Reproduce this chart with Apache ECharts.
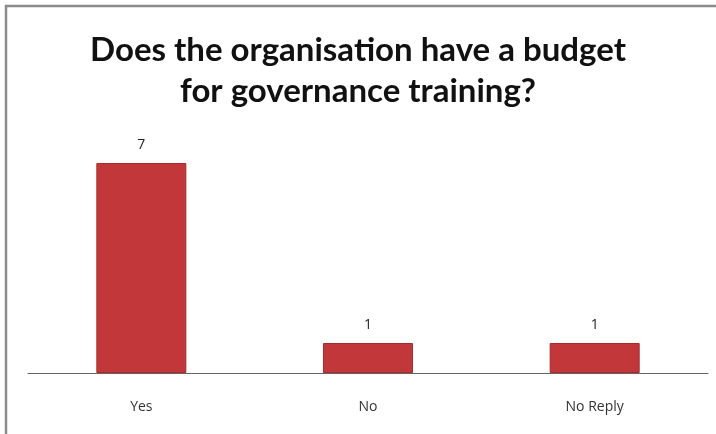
<!DOCTYPE html>
<html>
<head>
<meta charset="utf-8">
<script src="https://cdn.jsdelivr.net/npm/echarts@6/dist/echarts.min.js"></script>
<style>
  html, body { margin: 0; padding: 0; background: #fff; }
  #chart { width: 716px; height: 434px; }
</style>
</head>
<body>
<div id="chart"></div>
<script>
// Survey responses: organisation budget for governance training
const categories = ['Yes', 'No', 'No Reply'];
const counts = [7, 1, 1];
const titleLines = ['Does the organisation have a budget', 'for governance training?'];

const chart = echarts.init(document.getElementById('chart'));
chart.setOption({
  animation: false,
  backgroundColor: '#ffffff',
  title: {
    text: titleLines.join('\n'),
    left: 'center',
    top: 25,
    textStyle: {
      fontFamily: 'Lato',
      fontWeight: 'bold',
      fontSize: 33,
      lineHeight: 41,
      color: '#111111'
    }
  },
  // frame edges along the left and top of the chart area
  graphic: [{
    type: 'polyline',
    shape: { points: [[6, 434], [6, 6], [716, 6]] },
    style: { fill: 'none', stroke: '#8c8c8c', lineWidth: 2.5 },
    silent: true
  }],
  grid: { left: 28, right: 8, top: 133, bottom: 61 },
  xAxis: {
    type: 'category',
    data: categories,
    axisTick: { show: false },
    axisLine: { lineStyle: { color: '#666666', width: 1 } },
    axisLabel: {
      margin: 27,
      fontFamily: 'Open Sans',
      fontSize: 14,
      color: '#333333'
    }
  },
  yAxis: {
    type: 'value',
    min: 0,
    max: 8,
    show: false,
    splitLine: { show: false }
  },
  series: [{
    type: 'bar',
    data: counts,
    barWidth: 90,
    itemStyle: {
      color: '#c2383a',
      borderColor: '#a82a2c',
      borderWidth: 1
    },
    label: {
      show: true,
      position: 'top',
      distance: 11,
      fontFamily: 'Open Sans',
      fontSize: 14,
      color: '#222222'
    }
  }]
});
</script>
</body>
</html>
